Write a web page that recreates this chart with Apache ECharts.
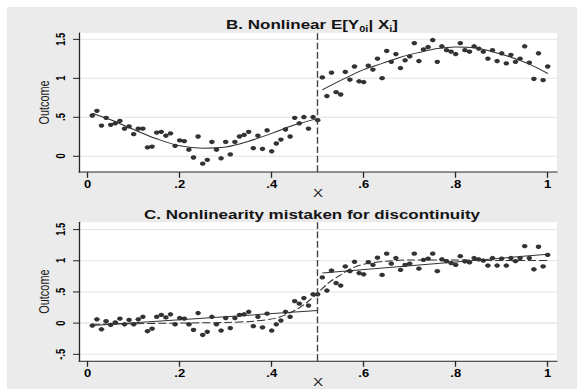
<!DOCTYPE html>
<html>
<head>
<meta charset="utf-8">
<script src="https://cdn.jsdelivr.net/npm/echarts@6/dist/echarts.min.js"></script>
<style>
  html, body { margin: 0; padding: 0; overflow: hidden; background: #fff; width: 577px; height: 389px; }
  /* the figure is laid out on a taller canvas and squeezed vertically */
  #chart { width: 577px; height: 499px; transform: scaleY(0.77956); transform-origin: 0 0; }
</style>
</head>
<body>
<div id="chart"></div>
<script>
// running variable (bins of width 0.01)
const xGrid = [
  0.01,0.02,0.03,0.04,0.05,0.06,0.07,0.08,0.09,0.10,
  0.11,0.12,0.13,0.14,0.15,0.16,0.17,0.18,0.19,0.20,
  0.21,0.22,0.23,0.24,0.25,0.26,0.27,0.28,0.29,0.30,
  0.31,0.32,0.33,0.34,0.35,0.36,0.37,0.38,0.39,0.40,
  0.41,0.42,0.43,0.44,0.45,0.46,0.47,0.48,0.49,0.50,
  0.51,0.52,0.53,0.54,0.55,0.56,0.57,0.58,0.59,0.60,
  0.61,0.62,0.63,0.64,0.65,0.66,0.67,0.68,0.69,0.70,
  0.71,0.72,0.73,0.74,0.75,0.76,0.77,0.78,0.79,0.80,
  0.81,0.82,0.83,0.84,0.85,0.86,0.87,0.88,0.89,0.90,
  0.91,0.92,0.93,0.94,0.95,0.96,0.97,0.98,0.99,1.00
];

// panel B: outcome with a nonlinear E[Y0i|Xi] and a jump at the cutoff
const outcomeB = [
  0.52,0.58,0.39,0.49,0.40,0.42,0.45,0.35,0.38,0.28,
  0.35,0.35,0.11,0.12,0.30,0.31,0.26,0.29,0.13,0.20,
  0.19,0.08,-0.02,0.25,-0.10,-0.05,0.18,0.08,-0.03,0.18,
  0.02,0.18,0.25,0.27,0.31,0.10,0.26,0.09,0.33,0.06,
  0.16,0.21,0.34,0.25,0.49,0.42,0.50,0.35,0.50,0.46,
  1.01,0.77,1.07,0.82,0.79,1.08,0.98,1.15,0.96,0.95,
  1.16,1.11,1.25,1.00,1.35,1.21,1.31,1.13,1.23,1.28,
  1.45,1.22,1.37,1.40,1.49,1.21,1.41,1.36,1.34,1.31,
  1.45,1.36,1.34,1.41,1.38,1.34,1.25,1.36,1.22,1.32,
  1.19,1.30,1.21,1.25,1.41,1.20,0.99,1.32,0.975,1.15
];

// panel C: smooth nonlinear outcome, no true jump
const outcomeC = [
  -0.04,0.06,-0.10,0.03,-0.03,0.01,0.07,-0.02,0.05,-0.02,
  0.06,0.10,-0.13,-0.09,0.10,0.13,0.09,0.14,-0.02,0.08,
  0.07,-0.02,-0.11,0.16,-0.19,-0.14,0.10,-0.02,-0.12,0.08,
  -0.08,0.08,0.13,0.14,0.18,-0.05,0.10,-0.07,0.15,-0.12,
  -0.02,0.04,0.18,0.10,0.35,0.31,0.40,0.28,0.46,0.46,
  0.73,0.52,0.84,0.64,0.60,0.905,0.83,0.98,0.80,0.78,
  0.975,0.93,1.045,0.77,1.11,0.95,1.04,0.85,0.93,0.95,
  1.11,0.87,1.01,1.03,1.11,0.83,1.02,0.99,0.96,0.93,
  1.07,0.985,0.97,1.04,1.02,1.00,0.92,1.04,0.92,1.03,
  0.92,1.04,0.99,1.04,1.23,1.04,0.86,1.22,0.905,1.09
];

// fitted curves, panel B
const fitBLeftX  = [0.01,0.05,0.10,0.15,0.20,0.25,0.30,0.35,0.40,0.45,0.50];
const fitBLeftY  = [0.55,0.465,0.34,0.22,0.13,0.10,0.115,0.19,0.29,0.40,0.48];
const fitBRightX = [0.51,0.56,0.60,0.64,0.68,0.72,0.76,0.80,0.84,0.88,0.92,0.96,1.00];
const fitBRightY = [0.85,1.00,1.11,1.19,1.27,1.33,1.38,1.40,1.39,1.34,1.27,1.18,1.06];

// panel C: linear fits on each side and the smooth conditional mean (dashed)
const fitCLeftX  = [0.01,0.50];
const fitCLeftY  = [-0.04,0.20];
const fitCRightX = [0.51,1.00];
const fitCRightY = [0.80,1.10];
const meanCX = [0.01,0.10,0.20,0.30,0.36,0.41,0.45,0.475,0.50,0.525,0.55,0.575,0.60,0.65,0.70,0.80,0.90,1.00];
const meanCY = [-0.02,-0.01,0.0,0.01,0.03,0.08,0.20,0.32,0.48,0.65,0.77,0.88,0.94,0.99,1.01,1.01,1.00,1.00];

const cutoff = 0.5;

const xTicks = [0, 0.2, 0.4, 0.6, 0.8, 1];
const xTickLabels = ['0', '.2', '.4', '.6', '.8', '1'];
const yTicksB = [0, 0.5, 1, 1.5];
const yTickLabelsB = ['0', '.5', '1', '1.5'];
const yTicksC = [-0.5, 0, 0.5, 1, 1.5];
const yTickLabelsC = ['-.5', '0', '.5', '1', '1.5'];

const FONT = "'Liberation Sans', Arial, Helvetica, sans-serif";
const AXIS_COLOR = '#262626';

function pairs(xs, ys) { return xs.map((x, i) => [x, ys[i]]); }
function labeller(ticks, labels) {
  return v => {
    const i = ticks.findIndex(t => Math.abs(t - v) < 1e-9);
    return i < 0 ? '' : labels[i];
  };
}

function makeXAxis(gridIndex) {
  return {
    gridIndex, type: 'value', min: -0.0189, max: 1.0202,
    axisLine: { show: true, onZero: false, lineStyle: { color: AXIS_COLOR, width: 1.3 } },
    axisTick: { show: true, length: 7.5, customValues: xTicks, lineStyle: { color: AXIS_COLOR, width: 1.3 } },
    axisLabel: {
      customValues: xTicks, formatter: labeller(xTicks, xTickLabels), margin: 9,
      fontSize: 13, fontWeight: 'bold', color: '#000', fontFamily: FONT
    },
    splitLine: { show: false },
    name: 'X', nameLocation: 'middle', nameGap: 20, nameMoveOverlap: false,
    nameTextStyle: { fontSize: 15, color: '#1a1a1a', fontFamily: FONT }
  };
}

function makeYAxis(gridIndex, min, max, ticks, labels) {
  return {
    gridIndex, type: 'value', min, max,
    axisLine: { show: true, onZero: false, lineStyle: { color: AXIS_COLOR, width: 1.3 } },
    axisTick: { show: true, length: 6, customValues: ticks, lineStyle: { color: AXIS_COLOR, width: 1.3 } },
    axisLabel: {
      customValues: ticks, formatter: labeller(ticks, labels), rotate: 90, margin: 12,
      fontSize: 12, fontWeight: 'bold', color: '#000', fontFamily: FONT
    },
    splitLine: { show: true, lineStyle: { color: '#e3e3e3', width: 1.3 } },
    name: 'Outcome', nameLocation: 'middle', nameGap: 27, nameRotate: 90, nameMoveOverlap: false,
    nameTextStyle: { fontSize: 14, color: '#1a1a1a', fontFamily: FONT }
  };
}

const cutoffLine = {
  silent: true, symbol: ['none', 'none'], label: { show: false },
  lineStyle: { color: '#444', width: 1.4, type: [8.6, 3.5] },
  data: [{ xAxis: cutoff }]
};

function scatter(axisIndex, ys) {
  return {
    type: 'scatter', xAxisIndex: axisIndex, yAxisIndex: axisIndex,
    data: pairs(xGrid, ys), symbol: 'circle', symbolSize: 5.6,
    itemStyle: { color: '#000' }, z: 2, markLine: cutoffLine
  };
}

function curve(axisIndex, xs, ys, smooth, dashed) {
  return {
    type: 'line', xAxisIndex: axisIndex, yAxisIndex: axisIndex,
    data: pairs(xs, ys), showSymbol: false, smooth, z: 3,
    lineStyle: { color: '#333', width: 1.3, type: dashed ? [8, 3] : 'solid' }
  };
}

const chart = echarts.init(document.getElementById('chart'), null, { renderer: 'svg', width: 577, height: 499 });

chart.setOption({
  animation: false,
  backgroundColor: '#ebebeb',
  grid: [
    { left: 79, top: 42.3, width: 478, height: 178.3, show: true, backgroundColor: '#fff', borderWidth: 0, outerBoundsMode: 'none' },
    { left: 79, top: 285.1, width: 478, height: 177.9, show: true, backgroundColor: '#fff', borderWidth: 0, outerBoundsMode: 'none' }
  ],
  xAxis: [makeXAxis(0), makeXAxis(1)],
  yAxis: [
    makeYAxis(0, -0.206, 1.581, yTicksB, yTickLabelsB),
    makeYAxis(1, -0.606, 1.612, yTicksC, yTickLabelsC)
  ],
  graphic: [
    { type: 'rect', shape: { x: 0, y: 0, width: 577, height: 9 }, style: { fill: '#fff' }, silent: true },
    { type: 'rect', shape: { x: 0, y: 0, width: 7, height: 499 }, style: { fill: '#fff' }, silent: true },
    {
      type: 'text', x: 312, y: 31.7, silent: true,
      style: {
        text: '{m|B. Nonlinear E[Y}{s|0i}{m|| X}{s|i}{m|]}',
        align: 'center', verticalAlign: 'middle', fill: '#141414',
        rich: {
          m: { fontSize: 17, fontWeight: 'bold', fontFamily: FONT, fill: '#141414', lineHeight: 20, verticalAlign: 'middle' },
          s: { fontSize: 11, fontWeight: 'bold', fontFamily: FONT, fill: '#141414', lineHeight: 11, padding: [12, 0, 0, 0], verticalAlign: 'middle' }
        }
      }
    },
    {
      type: 'text', x: 312, y: 275.4, silent: true,
      style: {
        text: 'C. Nonlinearity mistaken for discontinuity',
        align: 'center', verticalAlign: 'middle', fill: '#141414',
        fontSize: 17, fontWeight: 'bold', fontFamily: FONT
      }
    }
  ],
  series: [
    scatter(0, outcomeB),
    curve(0, fitBLeftX, fitBLeftY, 0.35, false),
    curve(0, fitBRightX, fitBRightY, 0.35, false),
    scatter(1, outcomeC),
    curve(1, fitCLeftX, fitCLeftY, false, false),
    curve(1, fitCRightX, fitCRightY, false, false),
    curve(1, meanCX, meanCY, 0.3, true)
  ]
});
</script>
</body>
</html>
